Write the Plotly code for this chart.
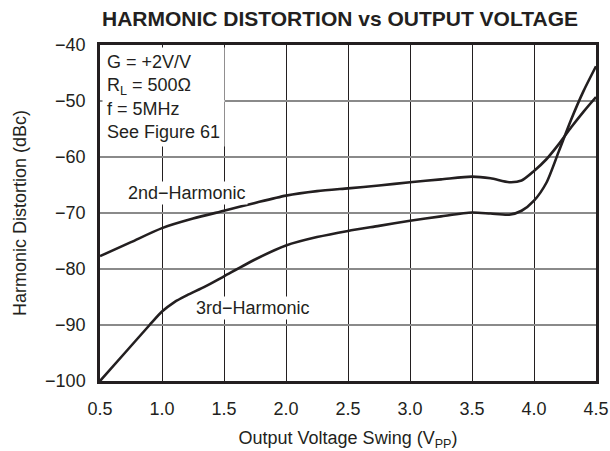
import plotly.graph_objects as go

# Output voltage swing (Vpp)
v2 = [0.5, 0.75, 1.0, 1.25, 1.5, 1.75, 2.0, 2.25, 2.5, 2.75, 3.0, 3.25, 3.5, 3.65, 3.8, 3.9, 4.0, 4.1, 4.2, 4.3, 4.4, 4.5]
# 2nd harmonic distortion (dBc)
h2 = [-77.7, -75.2, -72.7, -71.0, -69.6, -68.2, -66.9, -66.1, -65.6, -65.1, -64.5, -64.0, -63.5, -63.8, -64.5, -64.2, -62.5, -60.4, -57.7, -54.7, -51.9, -49.3]

v3 = [0.5, 0.7, 0.9, 1.0, 1.1, 1.2, 1.35, 1.5, 1.75, 2.0, 2.25, 2.5, 2.75, 3.0, 3.25, 3.5, 3.65, 3.8, 3.9, 4.0, 4.1, 4.2, 4.3, 4.4, 4.5]
# 3rd harmonic distortion (dBc)
h3 = [-100.0, -95.0, -90.0, -87.6, -85.9, -84.7, -83.1, -81.3, -78.3, -75.8, -74.3, -73.2, -72.3, -71.4, -70.6, -69.9, -70.1, -70.3, -69.6, -67.8, -64.6, -59.0, -53.3, -48.2, -43.8]

x_ticks = [0.5, 1.0, 1.5, 2.0, 2.5, 3.0, 3.5, 4.0, 4.5]
y_ticks = [-100, -90, -80, -70, -60, -50, -40]

FONT = "Liberation Sans, Arial, Helvetica, sans-serif"
INK = "#231f20"

fig = go.Figure()
fig.add_trace(go.Scatter(x=v2, y=h2, mode="lines", line=dict(color=INK, width=2.6, shape="spline", smoothing=0.7), showlegend=False))
fig.add_trace(go.Scatter(x=v3, y=h3, mode="lines", line=dict(color=INK, width=2.6, shape="spline", smoothing=0.7), showlegend=False))

fig.add_annotation(
    x=0.0, xref="paper", y=1.0, yref="paper", xanchor="left", yanchor="top",
    text="G = +2V/V<br>R<sub>L</sub> = 500Ω<br>f = 5MHz<br>See Figure 61",
    showarrow=False, align="left", bgcolor="white", borderpad=4, xshift=2, yshift=-2,
    font=dict(family=FONT, size=18, color=INK),
)
fig.add_annotation(x=1.2, y=-66.4, text="2nd−Harmonic", showarrow=False, bgcolor="white", borderpad=1,
                   font=dict(family=FONT, size=18, color=INK))
fig.add_annotation(x=1.73, y=-87.0, text="3rd−Harmonic", showarrow=False, bgcolor="white", borderpad=1,
                   font=dict(family=FONT, size=18, color=INK))

fig.update_layout(
    width=610, height=451,
    margin=dict(l=100, r=14, t=45, b=70, autoexpand=False),
    paper_bgcolor="white", plot_bgcolor="white",
    font=dict(family=FONT, size=18, color=INK),
    title=dict(text="<b>HARMONIC DISTORTION vs OUTPUT VOLTAGE</b>", x=340 / 610, xanchor="center",
               y=1 - 19 / 451, yanchor="middle", automargin=False,
               font=dict(family=FONT, size=21, color=INK)),
)
fig.update_xaxes(
    range=[0.5, 4.5], tickvals=x_ticks, ticktext=[f"{t:.1f}" for t in x_ticks],
    showgrid=True, gridcolor=INK, gridwidth=1,
    showline=True, mirror=True, linecolor=INK, linewidth=2.5,
    ticks="", ticklabelstandoff=10, zeroline=False, automargin=False,
    title=dict(text="Output Voltage Swing (V<sub>PP</sub>)", standoff=14, font=dict(size=18)),
)
fig.update_yaxes(
    range=[-100, -40], tickvals=y_ticks,
    showgrid=True, gridcolor="#8a8a8a", gridwidth=1.5,
    showline=True, mirror=True, linecolor=INK, linewidth=2.5,
    ticks="", ticklabelstandoff=8, zeroline=False, automargin=False,
    title=dict(text="Harmonic Distortion (dBc)", standoff=14, font=dict(size=18)),
)

fig.write_html("out.html", config={"displayModeBar": False},
               post_script="document.body.style.margin='0';")
